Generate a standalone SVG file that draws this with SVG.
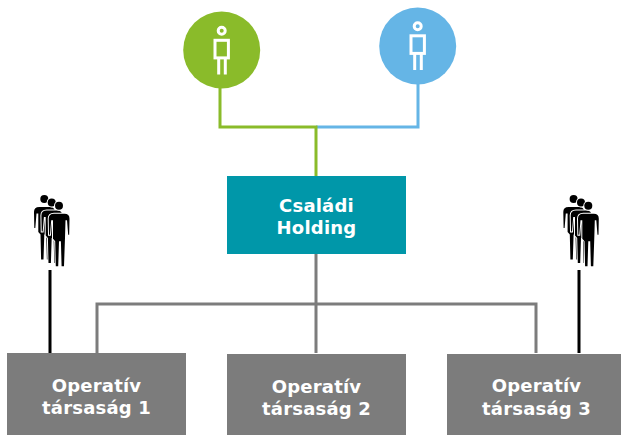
<svg xmlns="http://www.w3.org/2000/svg" width="621" height="435" viewBox="0 0 621 435">
<style>
.lbl{font-family:"DejaVu Sans",Verdana,sans-serif;font-weight:700;font-size:18px;letter-spacing:.2px;fill:#fff;text-anchor:middle}
.c{fill:none;stroke-width:3}
.g{fill:#7c7c7c}
.w{fill:none;stroke:#fff;stroke-width:3}
.fig{fill:#000;stroke:#fff;stroke-width:2;paint-order:stroke}
</style>
<defs>
<g id="p1"><circle cx="0" cy="-19.300" r="3.500" class="w"/><rect x="-6.700" y="-9.700" width="13.400" height="17.600" class="w"/><path d="M-3 8V24.500M3.600 8V24.500" class="w"/></g>
<g id="f">
<circle cx="0" cy="0" r="4"/>
<path d="M-10 29L-10.300 13Q-10.300 8 -5 8H5.500Q10.500 8 10.500 13L10.200 29H9.200L8 14.500H6.500L6 32L5 60.500H2.600L1.900 35.500H0L-0.800 60.500H-3.200L-3.800 35.500L-6 33V14.500H-7.800L-9 29Z"/>
</g>
<g id="crowd">
<use href="#f" x="-14.700" y="-6.700"/>
<use href="#f" x="-7.300" y="-3.300"/>
<use href="#f"/>
</g>
</defs>
<g id="connectors">
<path class="c" stroke="#65b5e6" d="M418 84V127H316"/>
<path class="c" stroke="#8abb2a" d="M220 87V127H316M316 125.500V176"/>
<path class="c" stroke="#7c7c7c" d="M316 254V353M97 353V304H536V353"/>
<path class="c" stroke="#000" d="M50 270V353M579 270V353"/>
</g>
<g id="person-green"><circle cx="221.700" cy="50" r="38.500" fill="#8abb2a"/><use href="#p1" x="221.700" y="50"/></g>
<g id="person-blue"><circle cx="417.700" cy="46" r="38.500" fill="#65b5e6"/><use href="#p1" x="417.700" y="45.500"/></g>
<g id="crowd-left" class="fig"><use href="#crowd" x="59" y="205.700"/></g>
<g id="crowd-right" class="fig"><use href="#crowd" x="588.300" y="205.700"/></g>
<g id="holding"><rect x="227" y="176" width="179" height="78" fill="#0097a9"/><text class="lbl" x="316.500" y="212">Családi</text><text class="lbl" x="316.500" y="234">Holding</text></g>
<g id="op1"><rect class="g" x="7" y="353" width="179" height="82"/><text class="lbl" x="96.500" y="392">Operatív</text><text class="lbl" x="96.500" y="414">társaság 1</text></g>
<g id="op2"><rect class="g" x="227" y="354" width="179" height="81"/><text class="lbl" x="316.500" y="393">Operatív</text><text class="lbl" x="316.500" y="415">társaság 2</text></g>
<g id="op3"><rect class="g" x="447" y="354" width="174" height="81"/><text class="lbl" x="536.500" y="392">Operatív</text><text class="lbl" x="536.500" y="415">társaság 3</text></g>
</svg>
